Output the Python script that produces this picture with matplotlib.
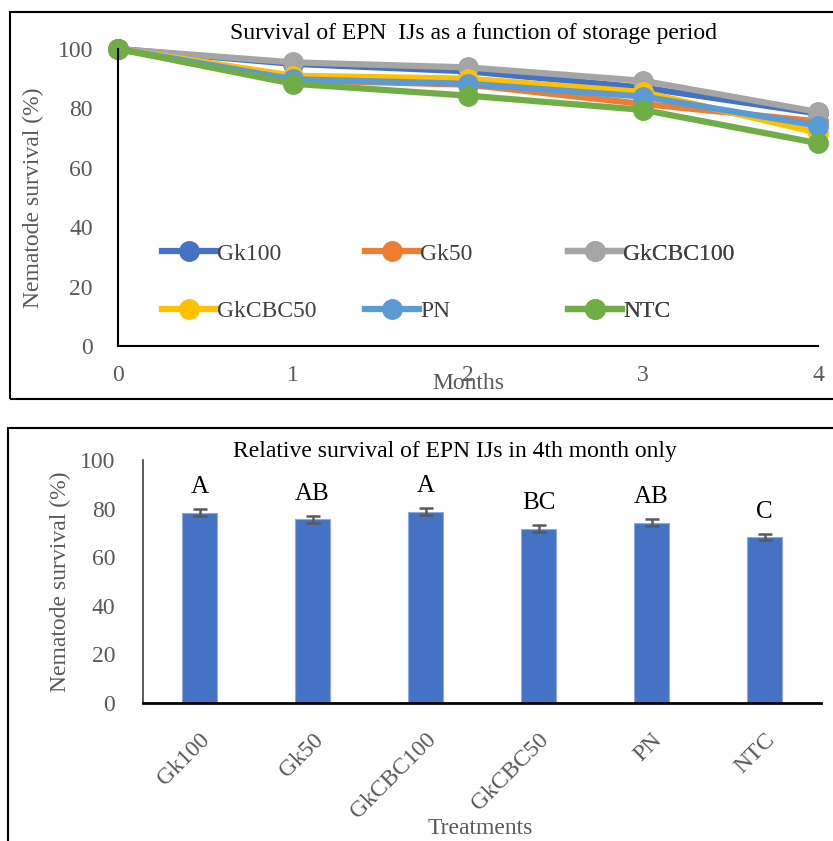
import matplotlib.pyplot as plt
from matplotlib.patches import Rectangle

plt.rcParams['font.family'] = ['Liberation Serif', 'DejaVu Serif']

# survival (%) per month for each treatment
months = [0, 1, 2, 3, 4]
treatments = ['Gk100', 'Gk50', 'GkCBC100', 'GkCBC50', 'PN', 'NTC']
gk100 = [100, 95.0, 92.5, 87.0, 78.3]
gk50 = [100, 89.5, 88.0, 81.5, 75.6]
gkcbc100 = [100, 95.5, 93.8, 89.3, 78.8]
gkcbc50 = [100, 91.0, 90.0, 85.5, 71.8]
pn = [100, 89.8, 88.3, 84.0, 74.2]
ntc = [100, 88.3, 84.3, 79.5, 68.3]

# 4th month survival with standard errors and letter groups
month4 = [78.3, 75.6, 78.8, 71.8, 74.2, 68.3]
month4_err = [1.5, 1.4, 1.4, 1.4, 1.4, 1.3]
groups = ['A', 'AB', 'A', 'BC', 'AB', 'C']

colors = ['#4472C4', '#ED7D31', '#A5A5A5', '#FFC000', '#5B9BD5', '#70AD47']
tick_grey = '#595959'

W, H = 833, 841
fig = plt.figure(figsize=(W / 100, H / 100), dpi=100)

# frames around the two panels
fig.patches.append(Rectangle((10 / W, 1 - 399 / H), 840 / W, 387 / H,
                             transform=fig.transFigure, fill=False,
                             edgecolor='black', linewidth=1.5))
fig.patches.append(Rectangle((8 / W, 1 - 850 / H), 840 / W, 422 / H,
                             transform=fig.transFigure, fill=False,
                             edgecolor='black', linewidth=1.5))

# ---- line chart: survival over storage period
ax1 = fig.add_axes([118 / W, 1 - 346 / H, 700 / W, 297 / H])
series = [gk100, gk50, gkcbc100, gkcbc50, pn, ntc]
lines = []
for name, vals, c in zip(treatments, series, colors):
    ln, = ax1.plot(months, vals, color=c, linewidth=4.5, marker='o', markersize=14,
                   label=name, clip_on=False, solid_joinstyle='round')
    lines.append(ln)
ax1.set_xlim(0, 4)
ax1.set_ylim(0, 100)
ax1.set_xticks(months)
ax1.set_yticks(range(0, 101, 20))
ax1.tick_params(length=0, labelsize=17, colors=tick_grey, pad=18)
ax1.tick_params(axis='x', pad=14)
for s in ['top', 'right']:
    ax1.spines[s].set_visible(False)
for s in ['left', 'bottom']:
    ax1.spines[s].set_color('black')
    ax1.spines[s].set_linewidth(1.5)
fig.text(473 / W, 1 - 33 / H, 'Survival of EPN  IJs as a function of storage period',
         fontsize=17, color='black', ha='center', va='center')
ax1.set_xlabel('Months', fontsize=17, color=tick_grey, labelpad=-10)
ax1.set_ylabel('Nematode survival (%)', fontsize=17, color=tick_grey, labelpad=10)

# legend laid out as three equal-width columns, filled row by row
col_x = [162, 365, 568]
for k, x0 in enumerate(col_x):
    idx = [k, k + 3]
    leg = ax1.legend([lines[i] for i in idx], [treatments[i] for i in idx],
                     loc='upper left', bbox_to_anchor=(x0 / W, 1 - 243 / H),
                     bbox_transform=fig.transFigure, frameon=False,
                     fontsize=17, handlelength=2.3, handletextpad=0.05,
                     labelspacing=1.52, labelcolor='#404040', borderpad=0,
                     borderaxespad=0)
    ax1.add_artist(leg)

# ---- bar chart: 4th month only
ax2 = fig.add_axes([143 / W, 1 - 703 / H, 678 / W, 243 / H])
xpos = range(len(treatments))
ax2.bar(xpos, month4, width=0.31, color='#4472C4', edgecolor='#8FAADC',
        linewidth=0.8, yerr=month4_err, capsize=5,
        error_kw=dict(ecolor='#595959', elinewidth=1.8, capthick=1.8))
for x, v, e, g in zip(xpos, month4, month4_err, groups):
    ax2.annotate(g, (x, v + e), xytext=(0, 8), textcoords='offset points',
                 ha='center', va='bottom', fontsize=18, color='black')
ax2.set_xlim(-0.5, len(treatments) - 0.5)
ax2.set_ylim(0, 100)
ax2.set_yticks(range(0, 101, 20))
ax2.set_xticks(list(xpos))
ax2.set_xticklabels(treatments, rotation=45, ha='right', rotation_mode='anchor')
ax2.tick_params(length=0, labelsize=17, colors=tick_grey)
ax2.tick_params(axis='y', pad=20)
ax2.tick_params(axis='x', pad=19)
for s in ['top', 'right']:
    ax2.spines[s].set_visible(False)
ax2.spines['left'].set_color('#404040')
ax2.spines['left'].set_linewidth(1.2)
ax2.spines['bottom'].set_color('black')
ax2.spines['bottom'].set_linewidth(2)
fig.text(455 / W, 1 - 452 / H, 'Relative survival of EPN IJs in 4th month only',
         fontsize=17, color='black', ha='center', va='center')
fig.text(480 / W, 1 - 828 / H, 'Treatments', fontsize=17, color=tick_grey,
         ha='center', va='center')
ax2.set_ylabel('Nematode survival (%)', fontsize=17, color=tick_grey, labelpad=6)

fig.savefig('out.png', dpi=100)
